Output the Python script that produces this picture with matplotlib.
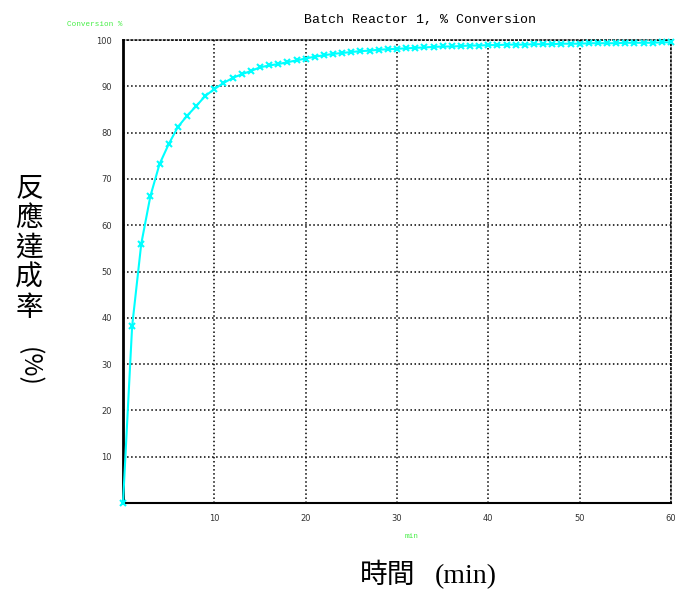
import numpy as np
import matplotlib.pyplot as plt

# conversion (%) sampled every minute
t = np.arange(0, 61)
conv = [0.0, 38.2, 56.0, 66.3, 73.2, 77.5, 81.2, 83.6, 85.7, 87.9,
        89.4, 90.7, 91.8, 92.6, 93.3, 94.1, 94.5, 94.8, 95.2, 95.6,
        96.0, 96.4, 96.7, 97.0, 97.2, 97.4, 97.6, 97.7, 97.9, 98.0,
        98.1, 98.2, 98.3, 98.4, 98.5, 98.6, 98.6, 98.7, 98.8, 98.8,
        98.9, 98.9, 99.0, 99.0, 99.0, 99.1, 99.1, 99.1, 99.2, 99.2,
        99.2, 99.3, 99.3, 99.3, 99.3, 99.4, 99.4, 99.4, 99.4, 99.5,
        99.5]
xticks = [10, 20, 30, 40, 50, 60]
yticks = [10, 20, 30, 40, 50, 60, 70, 80, 90, 100]

fig = plt.figure(figsize=(6.76, 5.93), dpi=100)
ax = fig.add_axes([123/676, 90/593, 548/676, 463/593])

ax.plot(t, conv, color='cyan', lw=1.5, marker='x', ms=5, mew=1.5,
        clip_on=False, zorder=5)

ax.set_xlim(0, 60)
ax.set_ylim(0, 100)
ax.set_xticks(xticks)
ax.set_yticks(yticks)
ax.tick_params(length=0, labelsize=6, labelcolor='#333333', pad=8)
ax.grid(True, color='black', ls=':', lw=1.1)
for s in ['top', 'right']:
    ax.spines[s].set_linestyle(':')
    ax.spines[s].set_linewidth(1.1)
ax.spines['left'].set_linewidth(2)
ax.spines['bottom'].set_linewidth(1.5)

mono = 'Liberation Mono'
fig.text(420/676, 1 - 20/593, 'Batch Reactor 1, % Conversion', family=mono,
         fontsize=9.5, ha='center', va='center')
fig.text(95/676, 1 - 25/593, 'Conversion %', family=mono, fontsize=5.5,
         color='#44ee44', ha='center', va='center')
fig.text(412/676, 1 - 537/593, 'min', family=mono, fontsize=5.5,
         color='#44ee44', ha='center', va='center')

# large Chinese axis titles
cjk = 'Noto Sans CJK TC'
fig.text(388/676, 1 - 575/593, '時間', family=cjk, fontsize=20,
         ha='center', va='center')
fig.text(466/676, 1 - 577/593, '(min)', family='Liberation Serif', fontsize=20,
         ha='center', va='center')
for i, ch in enumerate('反應達成率'):
    fig.text(29/676, 1 - (188 + i*30)/593, ch, family=cjk, fontsize=20,
             ha='center', va='center')
fig.text(29/676, 1 - 367/593, '(%)', family=cjk, fontsize=18,
         rotation=-90, ha='center', va='center')

fig.savefig('out.png', dpi=100)
